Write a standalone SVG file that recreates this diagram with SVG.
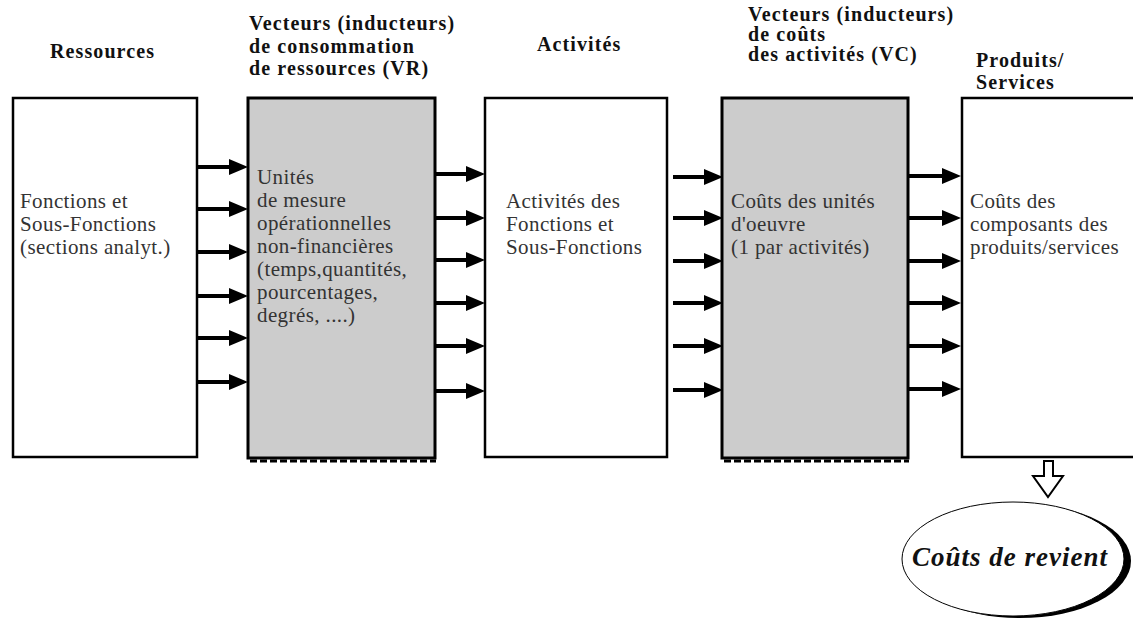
<svg xmlns="http://www.w3.org/2000/svg" width="1133" height="619" viewBox="0 0 1133 619" font-family="Liberation Serif, Times New Roman, serif">
<style>
.hdr{font-weight:bold;font-size:20px;letter-spacing:1.1px;fill:#111}
.txt{font-size:21px;letter-spacing:0.4px;fill:#333}
.box{fill:#fff;stroke:#000;stroke-width:2.5}
.gbox{fill:#cccccc;stroke:#000;stroke-width:3}
.shadow{stroke:#000;stroke-width:3;stroke-dasharray:7 3;fill:none}
.arr{stroke:#000;stroke-width:4;fill:none;marker-end:url(#ah)}
</style>
<defs>
<marker id="ah" markerUnits="userSpaceOnUse" markerWidth="20" markerHeight="18" viewBox="0 0 20 18" refX="6" refY="9" orient="auto">
<path d="M0,1 L19,9 L0,17 Z" fill="#000"/>
</marker>
</defs>
<rect width="1133" height="619" fill="#fff"/>

<g id="headers">
<text class="hdr" x="50" y="58">Ressources</text>
<text class="hdr" x="249" y="30">Vecteurs (inducteurs)</text>
<text class="hdr" x="249" y="53">de consommation</text>
<text class="hdr" x="249" y="75">de ressources (VR)</text>
<text class="hdr" x="537" y="51">Activités</text>
<text class="hdr" x="748" y="21">Vecteurs (inducteurs)</text>
<text class="hdr" x="748" y="41">de coûts</text>
<text class="hdr" x="748" y="61">des activités (VC)</text>
<text class="hdr" x="976" y="67">Produits/</text>
<text class="hdr" x="976" y="89">Services</text>
</g>

<g id="ressources">
<rect class="box" x="13" y="98" width="184" height="359"/>
<text class="txt" x="20" y="208">Fonctions et</text>
<text class="txt" x="20" y="231">Sous-Fonctions</text>
<text class="txt" x="20" y="254">(sections analyt.)</text>
</g>

<g id="vecteurs-vr">
<line class="shadow" x1="250" y1="461" x2="436" y2="461"/>
<rect class="gbox" x="248" y="98" width="187" height="360"/>
<text class="txt" x="257" y="184">Unités</text>
<text class="txt" x="257" y="207">de mesure</text>
<text class="txt" x="257" y="230">opérationnelles</text>
<text class="txt" x="257" y="253">non-financières</text>
<text class="txt" x="257" y="276">(temps,quantités,</text>
<text class="txt" x="257" y="299">pourcentages,</text>
<text class="txt" x="257" y="322">degrés, ....)</text>
</g>

<g id="activites">
<rect class="box" x="485" y="98" width="182" height="359"/>
<text class="txt" x="506" y="208">Activités des</text>
<text class="txt" x="506" y="231">Fonctions et</text>
<text class="txt" x="506" y="254">Sous-Fonctions</text>
</g>

<g id="vecteurs-vc">
<line class="shadow" x1="724" y1="461" x2="909" y2="461"/>
<rect class="gbox" x="722" y="98" width="186" height="360"/>
<text class="txt" x="731" y="208">Coûts des unités</text>
<text class="txt" x="731" y="231">d'oeuvre</text>
<text class="txt" x="731" y="254">(1 par activités)</text>
</g>

<g id="produits">
<rect class="box" x="962" y="98" width="180" height="359"/>
<text class="txt" x="970" y="208">Coûts des</text>
<text class="txt" x="970" y="231">composants des</text>
<text class="txt" x="970" y="254">produits/services</text>
</g>

<g id="cout-revient">
<ellipse cx="1020" cy="561" rx="111" ry="57" fill="#000"/>
<ellipse cx="1013" cy="559" rx="111" ry="57" fill="#fff" stroke="#000" stroke-width="1"/>
<text x="912" y="566" font-weight="bold" font-style="italic" font-size="27" letter-spacing="1" fill="#111">Coûts de revient</text>
</g>

<g id="connectors">
<line class="arr" x1="197" y1="167" x2="235" y2="167"/>
<line class="arr" x1="197" y1="209" x2="235" y2="209"/>
<line class="arr" x1="197" y1="252" x2="235" y2="252"/>
<line class="arr" x1="197" y1="296" x2="235" y2="296"/>
<line class="arr" x1="197" y1="338" x2="235" y2="338"/>
<line class="arr" x1="197" y1="382" x2="235" y2="382"/>

<line class="arr" x1="435" y1="174" x2="472" y2="174"/>
<line class="arr" x1="435" y1="218" x2="472" y2="218"/>
<line class="arr" x1="435" y1="260" x2="472" y2="260"/>
<line class="arr" x1="435" y1="303" x2="472" y2="303"/>
<line class="arr" x1="435" y1="346" x2="472" y2="346"/>
<line class="arr" x1="435" y1="391" x2="472" y2="391"/>

<line class="arr" x1="673" y1="177" x2="710" y2="177"/>
<line class="arr" x1="673" y1="218" x2="710" y2="218"/>
<line class="arr" x1="673" y1="261" x2="710" y2="261"/>
<line class="arr" x1="673" y1="303" x2="710" y2="303"/>
<line class="arr" x1="673" y1="346" x2="710" y2="346"/>
<line class="arr" x1="673" y1="390" x2="710" y2="390"/>

<line class="arr" x1="908" y1="176" x2="948" y2="176"/>
<line class="arr" x1="908" y1="218" x2="948" y2="218"/>
<line class="arr" x1="908" y1="261" x2="948" y2="261"/>
<line class="arr" x1="908" y1="303" x2="948" y2="303"/>
<line class="arr" x1="908" y1="346" x2="948" y2="346"/>
<line class="arr" x1="908" y1="389" x2="948" y2="389"/>

<path d="M1044,461 L1053,461 L1053,476 L1063,476 L1048,497 L1033,476 L1044,476 Z" fill="#fff" stroke="#000" stroke-width="2"/>
</g>
</svg>
